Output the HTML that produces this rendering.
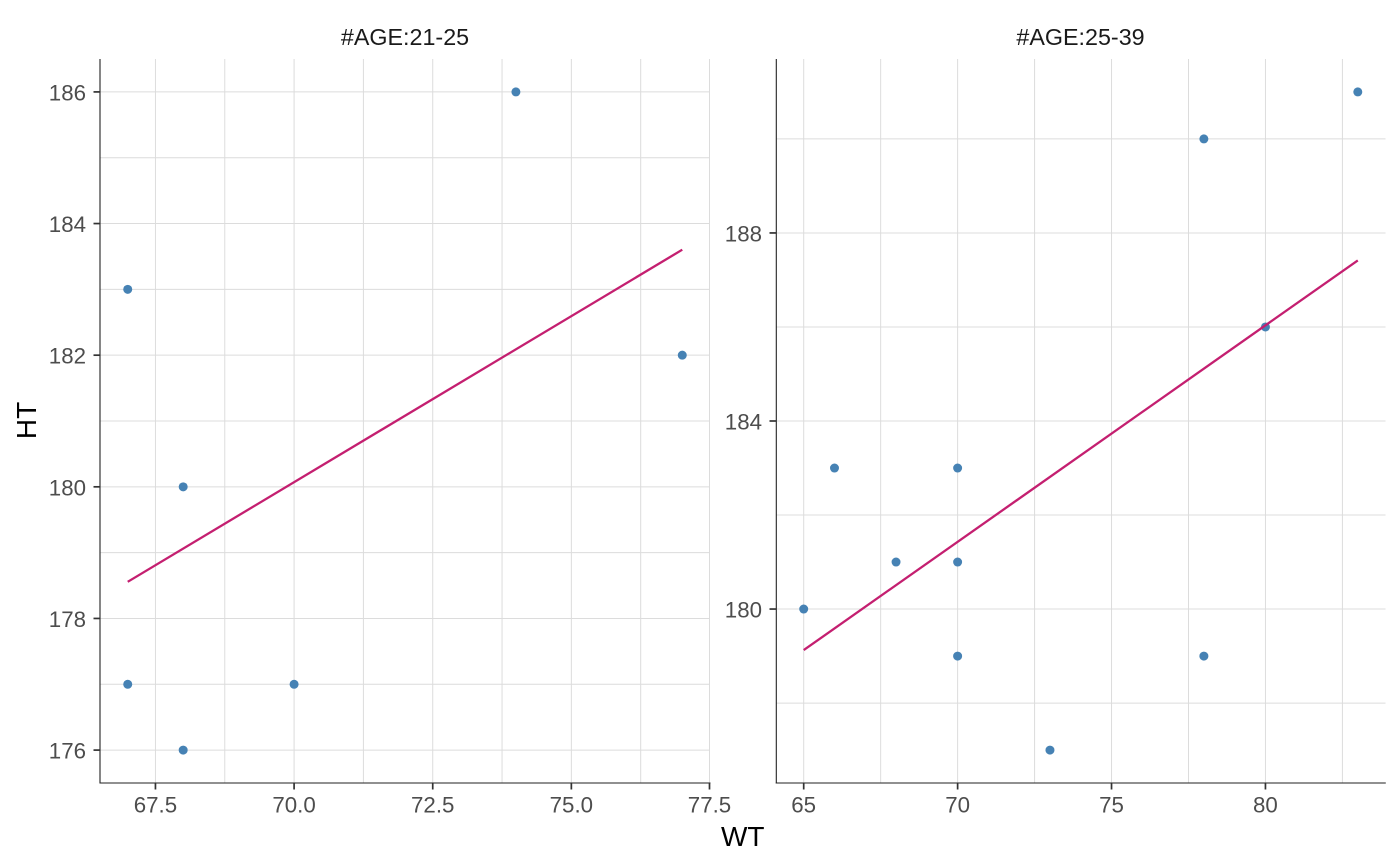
<!DOCTYPE html>
<html>
<head>
<meta charset="utf-8">
<style>
  html, body { margin: 0; padding: 0; background: #ffffff; }
  svg { display: block; }
  text { font-family: "Liberation Sans", Arial, sans-serif; }
</style>
</head>
<body>
<svg width="1400" height="866" viewBox="0 0 1400 866" xmlns="http://www.w3.org/2000/svg">
  <rect x="0" y="0" width="1400" height="866" fill="#ffffff"/>

  <!-- ================= LEFT PANEL ================= -->
  <g stroke="#dcdcdc" stroke-width="1" fill="none">
    <line x1="155.45" y1="59" x2="155.45" y2="783"/>
    <line x1="224.77" y1="59" x2="224.77" y2="783"/>
    <line x1="294.09" y1="59" x2="294.09" y2="783"/>
    <line x1="363.41" y1="59" x2="363.41" y2="783"/>
    <line x1="432.73" y1="59" x2="432.73" y2="783"/>
    <line x1="502.05" y1="59" x2="502.05" y2="783"/>
    <line x1="571.36" y1="59" x2="571.36" y2="783"/>
    <line x1="640.68" y1="59" x2="640.68" y2="783"/>
    <line x1="709.5" y1="59" x2="709.5" y2="783"/>
    <line x1="100" y1="750.09" x2="710" y2="750.09"/>
    <line x1="100" y1="684.27" x2="710" y2="684.27"/>
    <line x1="100" y1="618.45" x2="710" y2="618.45"/>
    <line x1="100" y1="552.64" x2="710" y2="552.64"/>
    <line x1="100" y1="486.82" x2="710" y2="486.82"/>
    <line x1="100" y1="421.00" x2="710" y2="421.00"/>
    <line x1="100" y1="355.18" x2="710" y2="355.18"/>
    <line x1="100" y1="289.36" x2="710" y2="289.36"/>
    <line x1="100" y1="223.55" x2="710" y2="223.55"/>
    <line x1="100" y1="157.73" x2="710" y2="157.73"/>
    <line x1="100" y1="91.91" x2="710" y2="91.91"/>
  </g>

  <g fill="#4682b4">
    <circle cx="127.73" cy="289.36" r="4.5"/>
    <circle cx="127.73" cy="684.27" r="4.5"/>
    <circle cx="183.18" cy="486.82" r="4.5"/>
    <circle cx="183.18" cy="750.09" r="4.5"/>
    <circle cx="294.09" cy="684.27" r="4.5"/>
    <circle cx="515.91" cy="91.91" r="4.5"/>
    <circle cx="682.27" cy="355.18" r="4.5"/>
  </g>
  <line x1="127.73" y1="581.8" x2="682.27" y2="249.7" stroke="#c41f70" stroke-width="2.3"/>

  <line x1="100" y1="59" x2="100" y2="783.5" stroke="#222" stroke-width="1.1"/>
  <line x1="99.5" y1="783" x2="710.5" y2="783" stroke="#222" stroke-width="1.1"/>
  <g stroke="#333" stroke-width="1.7">
    <line x1="93.5" y1="750.09" x2="100" y2="750.09"/>
    <line x1="93.5" y1="618.45" x2="100" y2="618.45"/>
    <line x1="93.5" y1="486.82" x2="100" y2="486.82"/>
    <line x1="93.5" y1="355.18" x2="100" y2="355.18"/>
    <line x1="93.5" y1="223.55" x2="100" y2="223.55"/>
    <line x1="93.5" y1="91.91" x2="100" y2="91.91"/>
    <line x1="155.45" y1="783" x2="155.45" y2="789.5"/>
    <line x1="294.09" y1="783" x2="294.09" y2="789.5"/>
    <line x1="432.73" y1="783" x2="432.73" y2="789.5"/>
    <line x1="571.36" y1="783" x2="571.36" y2="789.5"/>
    <line x1="709.5" y1="783" x2="709.5" y2="789.5"/>
  </g>
  <g fill="#4d4d4d" font-size="22.3" text-anchor="end">
    <text x="86" y="758.6">176</text>
    <text x="86" y="627.0">178</text>
    <text x="86" y="495.3">180</text>
    <text x="86" y="363.7">182</text>
    <text x="86" y="232.0">184</text>
    <text x="86" y="100.4">186</text>
  </g>
  <g fill="#4d4d4d" font-size="22.3" text-anchor="middle">
    <text x="155.45" y="812.5">67.5</text>
    <text x="294.09" y="812.5">70.0</text>
    <text x="432.73" y="812.5">72.5</text>
    <text x="571.36" y="812.5">75.0</text>
    <text x="709.5" y="812.5">77.5</text>
  </g>
  <text x="405" y="45" fill="#1a1a1a" font-size="23.3" text-anchor="middle">#AGE:21-25</text>

  <!-- ================= RIGHT PANEL ================= -->
  <g stroke="#dcdcdc" stroke-width="1" fill="none">
    <line x1="803.70" y1="59" x2="803.70" y2="783"/>
    <line x1="880.66" y1="59" x2="880.66" y2="783"/>
    <line x1="957.62" y1="59" x2="957.62" y2="783"/>
    <line x1="1034.58" y1="59" x2="1034.58" y2="783"/>
    <line x1="1111.53" y1="59" x2="1111.53" y2="783"/>
    <line x1="1188.49" y1="59" x2="1188.49" y2="783"/>
    <line x1="1265.45" y1="59" x2="1265.45" y2="783"/>
    <line x1="1342.41" y1="59" x2="1342.41" y2="783"/>
    <line x1="776" y1="703.08" x2="1385.5" y2="703.08"/>
    <line x1="776" y1="609.05" x2="1385.5" y2="609.05"/>
    <line x1="776" y1="515.03" x2="1385.5" y2="515.03"/>
    <line x1="776" y1="421.00" x2="1385.5" y2="421.00"/>
    <line x1="776" y1="326.97" x2="1385.5" y2="326.97"/>
    <line x1="776" y1="232.95" x2="1385.5" y2="232.95"/>
    <line x1="776" y1="138.92" x2="1385.5" y2="138.92"/>
  </g>

  <g fill="#4682b4">
    <circle cx="803.70" cy="609.05" r="4.5"/>
    <circle cx="834.49" cy="468.01" r="4.5"/>
    <circle cx="896.05" cy="562.04" r="4.5"/>
    <circle cx="957.62" cy="468.01" r="4.5"/>
    <circle cx="957.62" cy="562.04" r="4.5"/>
    <circle cx="957.62" cy="656.07" r="4.5"/>
    <circle cx="1049.97" cy="750.09" r="4.5"/>
    <circle cx="1203.88" cy="138.92" r="4.5"/>
    <circle cx="1203.88" cy="656.07" r="4.5"/>
    <circle cx="1265.45" cy="326.97" r="4.5"/>
    <circle cx="1357.80" cy="91.91" r="4.5"/>
  </g>
  <line x1="803.70" y1="650.1" x2="1357.80" y2="260.4" stroke="#c41f70" stroke-width="2.3"/>

  <line x1="776.3" y1="59" x2="776.3" y2="783.5" stroke="#222" stroke-width="1.1"/>
  <line x1="775.8" y1="783" x2="1385.8" y2="783" stroke="#222" stroke-width="1.1"/>
  <g stroke="#333" stroke-width="1.7">
    <line x1="769.5" y1="609.05" x2="776" y2="609.05"/>
    <line x1="769.5" y1="421.00" x2="776" y2="421.00"/>
    <line x1="769.5" y1="232.95" x2="776" y2="232.95"/>
    <line x1="803.70" y1="783" x2="803.70" y2="789.5"/>
    <line x1="957.62" y1="783" x2="957.62" y2="789.5"/>
    <line x1="1111.53" y1="783" x2="1111.53" y2="789.5"/>
    <line x1="1265.45" y1="783" x2="1265.45" y2="789.5"/>
  </g>
  <g fill="#4d4d4d" font-size="22.3" text-anchor="end">
    <text x="762" y="617.6">180</text>
    <text x="762" y="429.5">184</text>
    <text x="762" y="241.5">188</text>
  </g>
  <g fill="#4d4d4d" font-size="22.3" text-anchor="middle">
    <text x="803.70" y="812.5">65</text>
    <text x="957.62" y="812.5">70</text>
    <text x="1111.53" y="812.5">75</text>
    <text x="1265.45" y="812.5">80</text>
  </g>
  <text x="1080.5" y="45" fill="#1a1a1a" font-size="23.3" text-anchor="middle">#AGE:25-39</text>

  <text x="742.75" y="846" fill="#000" font-size="28" text-anchor="middle">WT</text>
  <text x="0" y="0" fill="#000" font-size="28" text-anchor="middle" transform="translate(36,420.5) rotate(-90)">HT</text>
</svg>
</body>
</html>
